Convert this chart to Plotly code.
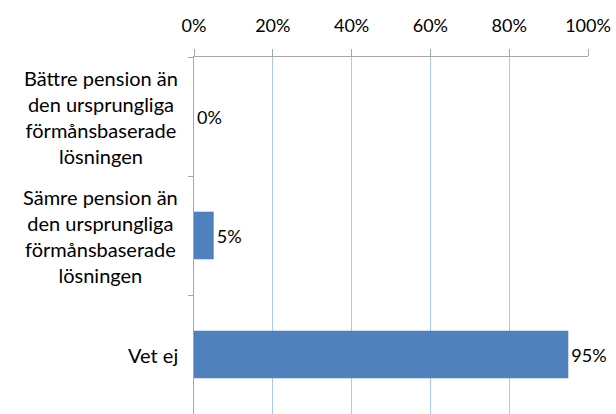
import plotly.graph_objects as go

categories = [
    "Bättre pension än<br>den ursprungliga<br>förmånsbaserade<br>lösningen",
    "Sämre pension än<br>den ursprungliga<br>förmånsbaserade<br>lösningen",
    "Vet ej",
]
values = [0.0, 0.05, 0.95]
value_labels = ["0%", "5%", "95%"]
x_ticks = [0, 0.2, 0.4, 0.6, 0.8, 1.0]
x_tick_labels = ["0%", "20%", "40%", "60%", "80%", "100%"]

FONT = "Lato, 'Open Sans', sans-serif"

fig = go.Figure()
fig.add_trace(go.Bar(
    y=categories,
    x=values,
    orientation="h",
    marker=dict(color="#4F81BD", line=dict(width=0)),
    width=0.4,
    text=value_labels,
    textposition="outside",
    textfont=dict(size=18, color="#000000", family=FONT),
    cliponaxis=False,
))

# category labels as centered multi-line annotations
for c in categories:
    fig.add_annotation(
        x=0, xref="paper", xanchor="right", xshift=-14,
        y=c, yref="y", yanchor="middle",
        text=c, showarrow=False, align="center",
        font=dict(size=20, color="#000000", family=FONT),
    )

fig.update_layout(
    width=616, height=414,
    margin=dict(l=194, r=28, t=57, b=0),
    paper_bgcolor="white", plot_bgcolor="white",
    showlegend=False,
    font=dict(family=FONT, size=18, color="#000000"),
    xaxis=dict(
        side="top", range=[0, 1], tickvals=x_ticks, ticktext=x_tick_labels,
        showgrid=True, gridcolor="#A4CCF5", gridwidth=1,
        showline=True, linecolor="#A6A6A6", linewidth=1,
        ticks="outside", ticklen=7, tickcolor="#A6A6A6",
        ticklabelstandoff=10,
        zeroline=False, tickfont=dict(size=18, family=FONT),
    ),
    yaxis=dict(
        type="category", autorange="reversed",
        showticklabels=False, tickson="boundaries",
        ticks="outside", ticklen=5, tickcolor="#A6A6A6",
        showline=True, linecolor="#A6A6A6", linewidth=1,
        showgrid=False, zeroline=False,
    ),
)

fig.write_html(
    "out.html",
    config={"displayModeBar": False},
    post_script="document.body.style.margin='0';document.body.style.overflow='hidden';",
)
